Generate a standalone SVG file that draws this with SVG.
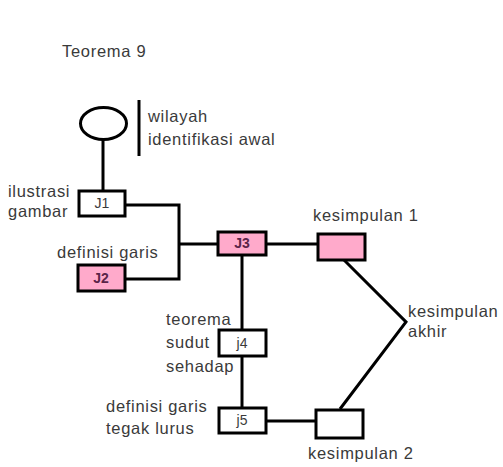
<svg xmlns="http://www.w3.org/2000/svg" width="503" height="467" viewBox="0 0 503 467">
  <style>
    .bg { fill: #ffffff; }
    .box { stroke: #000000; stroke-width: 3; fill: #ffffff; }
    .box.pink { fill: #ffaacb; }
    .wire { stroke: #000000; stroke-width: 3; fill: none; stroke-linejoin: miter; }
    .lbl { font-family: "Liberation Sans", Arial, sans-serif; font-size: 16.5px; letter-spacing: 0.7px; fill: #3a3a3a; }
    .id { font-family: "Liberation Sans", Arial, sans-serif; font-size: 14px; fill: #3a3a3a; text-anchor: middle; }
    .id.strong { font-weight: bold; fill: #5a2448; }
  </style>
  <rect class="bg" x="0" y="0" width="503" height="467"/>

  <text class="lbl" x="62" y="57">Teorema 9</text>

  <!-- connectors -->
  <g id="connectors">
    <line class="wire" x1="103" y1="140" x2="103" y2="191"/>
    <line class="wire" x1="139" y1="100" x2="139" y2="156"/>
    <polyline class="wire" points="125,205 179,205 179,279 125,279"/>
    <line class="wire" x1="179" y1="244" x2="218" y2="244"/>
    <line class="wire" x1="266" y1="244" x2="318" y2="244"/>
    <line class="wire" x1="242" y1="255" x2="242" y2="330"/>
    <line class="wire" x1="242" y1="356" x2="242" y2="408"/>
    <line class="wire" x1="266" y1="421" x2="316" y2="421"/>
    <polyline class="wire" points="344,260 406,322 340,409"/>
  </g>

  <!-- start: initial identification -->
  <g id="start">
    <ellipse cx="103.5" cy="123.5" rx="23" ry="16" fill="#ffffff" stroke="#000000" stroke-width="3"/>
    <text class="lbl" x="148" y="122">wilayah</text>
    <text class="lbl" x="148" y="145">identifikasi awal</text>
  </g>

  <g id="J1">
    <rect class="box" x="79" y="191" width="46" height="25"/>
    <text class="id" x="102" y="208">J1</text>
    <text class="lbl" x="8" y="197">ilustrasi</text>
    <text class="lbl" x="8" y="217">gambar</text>
  </g>

  <g id="J2">
    <rect class="box pink" x="78" y="265" width="47" height="26"/>
    <text class="id strong" x="101" y="283">J2</text>
    <text class="lbl" x="57" y="258">definisi garis</text>
  </g>

  <g id="J3">
    <rect class="box pink" x="218" y="232" width="48" height="23"/>
    <text class="id strong" x="242" y="248">J3</text>
  </g>

  <g id="kesimpulan1">
    <rect class="box pink" x="318" y="234" width="47" height="26"/>
    <text class="lbl" x="313" y="221">kesimpulan 1</text>
  </g>

  <g id="J4">
    <rect class="box" x="219" y="330" width="47" height="26"/>
    <text class="id" x="242" y="348">j4</text>
    <text class="lbl" x="166" y="325">teorema</text>
    <text class="lbl" x="166" y="348">sudut</text>
    <text class="lbl" x="166" y="372">sehadap</text>
  </g>

  <g id="J5">
    <rect class="box" x="219" y="408" width="47" height="25"/>
    <text class="id" x="242" y="425">j5</text>
    <text class="lbl" x="106" y="412">definisi garis</text>
    <text class="lbl" x="106" y="434">tegak lurus</text>
  </g>

  <g id="kesimpulan2">
    <rect class="box" x="316" y="410" width="47" height="28"/>
    <text class="lbl" x="308" y="459">kesimpulan 2</text>
  </g>

  <g id="akhir">
    <text class="lbl" x="408" y="317">kesimpulan</text>
    <text class="lbl" x="408" y="337">akhir</text>
  </g>
</svg>
